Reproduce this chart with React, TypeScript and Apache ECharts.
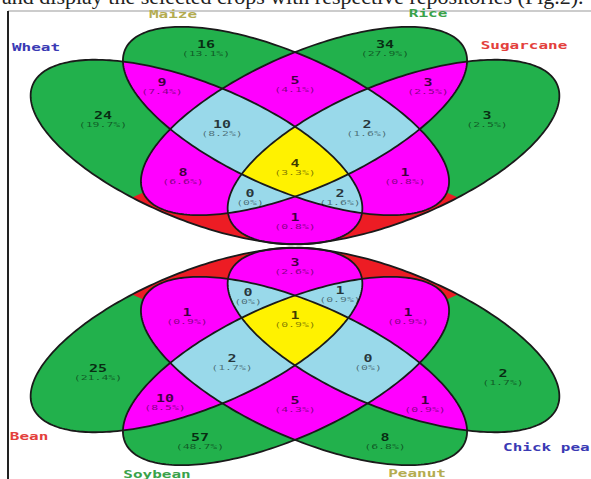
import React, { useEffect, useRef } from "react";
import * as echarts from "echarts";

type Pt = [number, number];

const WIDTH = 591;
const HEIGHT = 479;

const headerLine = "and display the selected crops with respective repositories (Fig.2).";

// Region membership, in order: outer-left, inner-left, inner-right, outer-right set
const regionKeys = [
  "1000", "0100", "0010", "0001",
  "1100", "0110", "0011", "1010", "0101", "1001",
  "1110", "0111", "1011", "1101",
  "1111",
];

const topSets = ["Wheat", "Maize", "Rice", "Sugarcane"];
const topCounts = [24, 16, 34, 3, 9, 5, 3, 8, 1, 1, 10, 2, 0, 2, 4];

const bottomSets = ["Bean", "Soybean", "Peanut", "Chick pea"];
const bottomCounts = [25, 57, 8, 2, 10, 5, 1, 1, 1, 3, 2, 0, 0, 1, 1];

// ---------- layout ----------
const GREEN = "#22b14c";
const MAGENTA = "#ff00ff";
const LIGHTBLUE = "#99d9ea";
const YELLOW = "#fff200";
const RED = "#ed1c24";
const EDGE = "#1a1a1a";

const AXIS_X = 295;
const MIRROR_Y = 246;

interface Ell { cx: number; cy: number; a: number; b: number; deg: number }

const outerLeft: Ell = { cx: 196.5, cy: 152, a: 177, b: 68.5, deg: 22.25 };
const innerLeft: Ell = { cx: 286, cy: 121, a: 176, b: 67, deg: 24 };

const mirrorX = (e: Ell): Ell => ({ ...e, cx: 2 * AXIS_X - e.cx, deg: -e.deg });
const mirrorY = (e: Ell): Ell => ({ ...e, cy: 2 * MIRROR_Y - e.cy, deg: -e.deg });

const topEllipses: Ell[] = [outerLeft, innerLeft, mirrorX(innerLeft), mirrorX(outerLeft)];
const bottomEllipses: Ell[] = topEllipses.map(mirrorY);

// anchor of the count line for each region (same order as regionKeys)
const topLabelXY: Pt[] = [
  [103, 115], [206, 44], [385, 44], [487, 115],
  [162, 82], [295, 80], [428, 82], [183, 172], [405, 172], [295, 217],
  [222, 124], [367, 124], [250, 193], [340, 193],
  [295, 163],
];
const bottomLabelXY: Pt[] = [
  [98, 368], [200, 437], [385, 437], [503, 373],
  [165, 398], [295, 400], [425, 400], [187, 312], [408, 312], [295, 262],
  [232, 358], [368, 358], [248, 292], [340, 290],
  [295, 315],
];

const topNameXY: Pt[] = [[36, 48], [173, 15], [428, 14], [524, 46]];
const bottomNameXY: Pt[] = [[29, 437], [157, 475], [417, 474], [503, 448]];
const BLUE_TXT = "#3a3ab4";
const OLIVE_TXT = "#b4ac50";
const GREEN_TXT = "#3aa24a";
const RED_TXT = "#e3403c";
const topNameColors = [BLUE_TXT, OLIVE_TXT, GREEN_TXT, RED_TXT];
const bottomNameColors = [RED_TXT, GREEN_TXT, OLIVE_TXT, BLUE_TXT];
const bottomNameAlign = ["center", "center", "center", "left"];

// ---------- geometry helpers ----------
function ellipsePoints(e: Ell, n = 240): Pt[] {
  const t = (e.deg * Math.PI) / 180;
  const ct = Math.cos(t);
  const st = Math.sin(t);
  const pts: Pt[] = [];
  for (let i = 0; i < n; i++) {
    const s = (2 * Math.PI * i) / n;
    const x = e.a * Math.cos(s);
    const y = e.b * Math.sin(s);
    pts.push([e.cx + x * ct - y * st, e.cy + x * st + y * ct]);
  }
  return pts;
}

function signedArea(p: Pt[]): number {
  let s = 0;
  for (let i = 0; i < p.length; i++) {
    const a = p[i];
    const b = p[(i + 1) % p.length];
    s += a[0] * b[1] - b[0] * a[1];
  }
  return s / 2;
}

function cross(a: Pt, b: Pt, q: Pt): number {
  return (b[0] - a[0]) * (q[1] - a[1]) - (b[1] - a[1]) * (q[0] - a[0]);
}

function lerp(p: Pt, q: Pt, t: number): Pt {
  return [p[0] + (q[0] - p[0]) * t, p[1] + (q[1] - p[1]) * t];
}

function clipEdge(subject: Pt[], a: Pt, b: Pt, sign: number): Pt[] {
  const out: Pt[] = [];
  const n = subject.length;
  for (let i = 0; i < n; i++) {
    const cur = subject[i];
    const prev = subject[(i + n - 1) % n];
    const dc = sign * cross(a, b, cur);
    const dp = sign * cross(a, b, prev);
    if (dc >= 0) {
      if (dp < 0) out.push(lerp(prev, cur, dp / (dp - dc)));
      out.push(cur);
    } else if (dp >= 0) {
      out.push(lerp(prev, cur, dp / (dp - dc)));
    }
  }
  return out;
}

function clipPoly(subject: Pt[], clip: Pt[]): Pt[] {
  const s = Math.sign(signedArea(clip));
  let out = subject;
  for (let i = 0; i < clip.length && out.length; i++) {
    out = clipEdge(out, clip[i], clip[(i + 1) % clip.length], s);
  }
  return out;
}

// part of `poly` on the far side (from `away`) of the major axis of `e`
function beyondAxis(poly: Pt[], e: Ell, away: Ell): Pt[] {
  const t = (e.deg * Math.PI) / 180;
  const c: Pt = [e.cx, e.cy];
  const c2: Pt = [e.cx + Math.cos(t), e.cy + Math.sin(t)];
  const sign = -Math.sign(cross(c, c2, [away.cx, away.cy]));
  return clipEdge(poly, c, c2, sign);
}

interface Shape { pts: Pt[]; fill: string; stroke?: string; lw?: number }

function order(fill: string): number {
  return fill === MAGENTA ? 0 : fill === LIGHTBLUE ? 1 : 2;
}

function diagramShapes(E: Ell[]): Shape[] {
  const P = E.map((e) => ellipsePoints(e));
  const shapes: Shape[] = [];
  P.forEach((p) => shapes.push({ pts: p, fill: GREEN }));
  // detached single-set pieces below the inner ellipses' tips
  shapes.push({ pts: beyondAxis(P[0], E[2], E[0]), fill: RED });
  shapes.push({ pts: beyondAxis(P[3], E[1], E[3]), fill: RED });
  const overlaps: Shape[] = [];
  regionKeys.forEach((key) => {
    const idx = key.split("").map((c, i) => (c === "1" ? i : -1)).filter((i) => i >= 0);
    if (idx.length < 2) return;
    let poly = P[idx[0]];
    for (let k = 1; k < idx.length; k++) poly = clipPoly(poly, P[idx[k]]);
    const fill = idx.length === 2 ? MAGENTA : idx.length === 3 ? LIGHTBLUE : YELLOW;
    overlaps.push({ pts: poly, fill });
  });
  overlaps.sort((a, b) => order(a.fill) - order(b.fill));
  const outlines = P.map((p) => ({ pts: p, fill: "none", stroke: EDGE, lw: 1.8 }));
  return shapes.concat(overlaps, outlines);
}

function pctText(count: number, total: number): string {
  if (count === 0) return "(0%)";
  return "(" + ((count / total) * 100).toFixed(1) + "%)";
}

const allShapes: Shape[] = [...diagramShapes(topEllipses), ...diagramShapes(bottomEllipses)];

const sum = (a: number[]) => a.reduce((s, v) => s + v, 0);

function labelSeries(name: string, xy: Pt[], counts: number[]) {
  const total = sum(counts);
  return {
    type: "custom",
    name,
    coordinateSystem: "cartesian2d",
    silent: true,
    z: 5,
    data: xy.map((p, i) => [p[0], p[1], counts[i]]),
    encode: { x: 0, y: 1 },
    renderItem: (_params: any, api: any) => {
      const p = api.coord([api.value(0), api.value(1)]);
      const c = api.value(2) as number;
      return {
        type: "group",
        children: [
          {
            type: "text",
            x: p[0],
            y: p[1],
            scaleY: 0.66,
            style: {
              text: String(c),
              font: 'bold 15px "DejaVu Sans Mono"',
              fill: "rgba(0,0,0,0.75)",
              align: "center",
              verticalAlign: "middle",
              textAlign: "center",
              textVerticalAlign: "middle",
            },
          },
          {
            type: "text",
            x: p[0],
            y: p[1] + 9,
            scaleY: 0.66,
            style: {
              text: pctText(c, total),
              font: '11.5px "DejaVu Sans Mono"',
              fill: "rgba(0,0,0,0.5)",
              align: "center",
              verticalAlign: "middle",
              textAlign: "center",
              textVerticalAlign: "middle",
            },
          },
        ],
      };
    },
  };
}

function nameGraphics(names: string[], xy: Pt[], colors: string[], align: string[]) {
  return names.map((n, i) => ({
    type: "text",
    x: xy[i][0],
    y: xy[i][1],
    scaleY: 0.64,
    z: 10,
    style: {
      text: n,
      font: 'bold 16px "DejaVu Sans Mono"',
      fill: colors[i],
      textAlign: align[i],
      textVerticalAlign: "middle",
    },
  }));
}

export default function App() {
  const ref = useRef<HTMLDivElement>(null);

  useEffect(() => {
    if (!ref.current) return;
    const chart = echarts.init(ref.current, undefined, {
      renderer: "svg",
      width: WIDTH,
      height: HEIGHT,
    });
    chart.setOption({
      animation: false,
      backgroundColor: "#ffffff",
      grid: { left: 0, right: 0, top: 0, bottom: 0 },
      xAxis: { type: "value", min: 0, max: WIDTH, show: false },
      yAxis: { type: "value", min: 0, max: HEIGHT, inverse: true, show: false },
      graphic: [
        {
          type: "text",
          x: 2,
          y: 7,
          z: 10,
          style: {
            text: headerLine,
            font: '22px "Liberation Serif"',
            fill: "#222",
            textAlign: "left",
            textVerticalAlign: "bottom",
          },
        },
        {
          type: "line",
          z: 10,
          shape: { x1: 8, y1: 11, x2: WIDTH, y2: 11 },
          style: { stroke: "#999", lineWidth: 1 },
        },
        {
          type: "line",
          z: 10,
          shape: { x1: 8, y1: 11, x2: 8, y2: HEIGHT },
          style: { stroke: "#222", lineWidth: 2 },
        },
        ...nameGraphics(topSets, topNameXY, topNameColors, ["center", "center", "center", "center"]),
        ...nameGraphics(bottomSets, bottomNameXY, bottomNameColors, bottomNameAlign),
      ],
      series: [
        {
          type: "custom",
          name: "regions",
          coordinateSystem: "cartesian2d",
          silent: true,
          data: allShapes.map((s) => [s.pts[0][0], s.pts[0][1]]),
          encode: { x: 0, y: 1 },
          renderItem: (params: any, api: any) => {
            const s = allShapes[params.dataIndex];
            return {
              type: "polygon",
              shape: { points: s.pts.map((p) => api.coord(p)) },
              style: {
                fill: s.fill,
                stroke: s.stroke ?? null,
                lineWidth: s.lw ?? 0,
              },
            };
          },
        },
        labelSeries("top", topLabelXY, topCounts),
        labelSeries("bottom", bottomLabelXY, bottomCounts),
      ],
    });
    return () => chart.dispose();
  }, []);

  return (
    <div
      ref={ref}
      style={{ position: "fixed", left: 0, top: 0, width: WIDTH, height: HEIGHT, background: "#fff" }}
    />
  );
}
